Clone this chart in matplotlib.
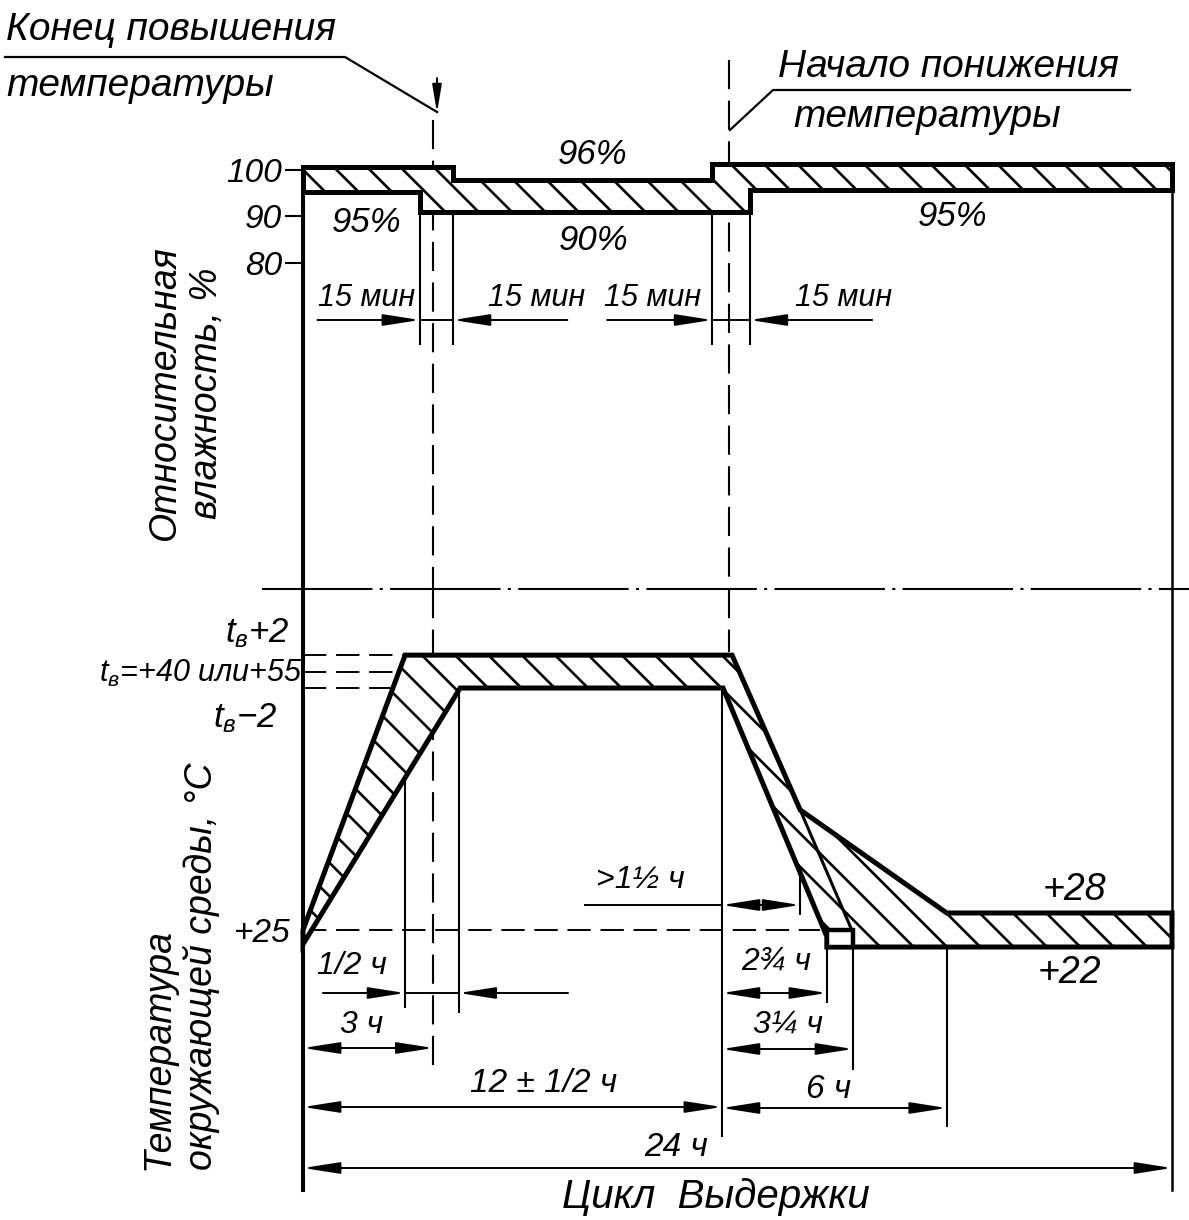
import matplotlib
matplotlib.use('Agg')
import matplotlib.pyplot as plt
from matplotlib.patches import Polygon, Rectangle, FancyArrowPatch

plt.rcParams['font.family'] = ['Liberation Sans', 'DejaVu Sans']
plt.rcParams['font.style'] = 'italic'
plt.rcParams['hatch.linewidth'] = 1.9
plt.rcParams['mathtext.fontset'] = 'custom'
plt.rcParams['mathtext.it'] = 'Liberation Sans:italic'
plt.rcParams['mathtext.rm'] = 'Liberation Sans:italic'

# ---------------- data (schematic drawing) ----------------
# time axis in hours as drawn (drawing is not to scale)
hum_upper_t = [0, 4.14, 4.14, 11.30, 11.30, 24]
hum_upper_v = [100.6, 100.6, 97.8, 97.8, 101.2, 101.2]
hum_lower_t = [0, 3.23, 3.23, 12.34, 12.34, 24]
hum_lower_v = [95.3, 95.3, 91.0, 91.0, 95.6, 95.6]
hum_ticks = [80, 90, 100]
hum_tick_labels = ['80', '90', '100']

temp_upper_t = [0, 2.82, 11.85, 13.73, 17.78, 24]
temp_upper_v = [25.0, 73.5, 73.5, 46.2, 28.0, 28.0]
temp_lower_t = [0, 4.34, 11.60, 14.47, 14.47, 24]
temp_lower_v = [22.5, 67.7, 67.7, 23.8, 22.0, 22.0]
alt_lower_t = [13.73, 15.19]
alt_lower_v = [46.2, 24.5]
box_t = [14.47, 15.19]
box_v = [22.0, 25.0]
tb_levels = [73.5, 70.5, 67.7]      # t_в+2, t_в, t_в-2 (schematic)
t25 = 25.0

t_rise_end = 3.6        # "3 ч"
t_fall_start = 11.76    # start of temperature decrease
t_12h = 11.57           # "12 ± 1/2 ч"
t_15min = [3.23, 4.14, 11.30, 12.34]
t_half = [2.82, 4.30]
t_gt15 = 13.73
t_234 = 14.47
t_314 = 15.19
t_6 = 17.78
t_24 = 24.0

# ---------------- layout ----------------
W, H = 1189, 1220
fig = plt.figure(figsize=(W / 100, H / 100), dpi=100)
PX_PER_H = (1172 - 303) / 24.0
X0 = -303 / PX_PER_H
X1 = X0 + W / PX_PER_H
SPLIT = 589

ax_h = fig.add_axes([0, 1 - SPLIT / H, 1, SPLIT / H])
ax_t = fig.add_axes([0, 0, 1, (H - SPLIT) / H])
HPX = 4.65
ax_h.set_xlim(X0, X1)
ax_h.set_ylim(100 - (SPLIT - 170) / HPX, 100 + 170 / HPX)
TPX = 5.667
ax_t.set_xlim(X0, X1)
ax_t.set_ylim(22 - (H - 947) / TPX, 22 + (947 - SPLIT) / TPX)

for ax in (ax_h, ax_t):
    ax.patch.set_alpha(0)
    ax.set_xticks([])
    for s in ('top', 'bottom'):
        ax.spines[s].set_visible(False)
    ax.spines['left'].set_position(('data', 0))
    ax.spines['right'].set_position(('data', t_24))
    ax.spines['left'].set_linewidth(2.9)
    ax.spines['right'].set_linewidth(1.8)

ax_h.spines['left'].set_bounds(ax_h.get_ylim()[0], hum_upper_v[0])
ax_h.spines['right'].set_bounds(ax_h.get_ylim()[0], hum_upper_v[-1])
ax_t.spines['left'].set_bounds(22 - (1190 - 947) / TPX, ax_t.get_ylim()[1])
ax_t.spines['right'].set_bounds(22 - (1190 - 947) / TPX, ax_t.get_ylim()[1])
ax_t.set_yticks([])

ax_h.set_yticks(hum_ticks)
ax_h.set_yticklabels(hum_tick_labels)
ax_h.tick_params(axis='y', direction='out', length=13, width=1.5, pad=2,
                 labelsize=24, right=False)

FS = dict(color='black', style='italic')


def ft(x, y, s, size=22, ha='center', va='center', **kw):
    fig.text(x / W, 1 - y / H, s, fontsize=size, ha=ha, va=va, **FS, **kw)


def pline(xs, ys, lw=1.5, ls='-', **kw):
    fig.lines.append(plt.Line2D([x / W for x in xs], [1 - y / H for y in ys],
                                transform=fig.transFigure, lw=lw, ls=ls,
                                color='black', **kw))


def yh(p):
    return (SPLIT - p) / SPLIT


def yt(p):
    return (H - p) / (H - SPLIT)


AP = dict(color='black', lw=1.4, shrinkA=0, shrinkB=0, mutation_scale=14)


def dim(ax, x1, x2, y, style):
    tr = ax.get_xaxis_transform()
    ax.annotate('', xy=(x2, y), xytext=(x1, y), xycoords=tr, textcoords=tr,
                arrowprops=dict(arrowstyle=style + ',head_length=1.6,head_width=0.25', **AP))


def vline(ax, x, p1, p2, lw=1.5, ls='-', yf=None):
    ax.plot([x, x], [yf(p1), yf(p2)], transform=ax.get_xaxis_transform(),
            color='black', lw=lw, ls=ls, clip_on=False, solid_capstyle='butt')


def hline(ax, x1, x2, p, yf, lw=1.4, ls='-'):
    ax.plot([x1, x2], [yf(p), yf(p)], transform=ax.get_xaxis_transform(),
            color='black', lw=lw, ls=ls, clip_on=False)


# ---------------- humidity band ----------------
poly_h = list(zip(hum_upper_t, hum_upper_v)) + list(zip(hum_lower_t[::-1], hum_lower_v[::-1]))
ax_h.add_patch(Polygon(poly_h, closed=True, facecolor='white', edgecolor='black',
                       hatch='\\', lw=3.6, joinstyle='miter', zorder=3))

# extension lines for 15 min marks
for x in t_15min:
    vline(ax_h, x, 190, 345, lw=1.5, yf=yh)
DASH = (0, (14, 5.5))
vline(ax_h, t_rise_end, 120, SPLIT, lw=1.5, ls=DASH, yf=yh)
vline(ax_h, t_fall_start, 60, SPLIT, lw=1.5, ls=DASH, yf=yh)

# 15 min dimension arrows
ROW15 = 320
dim(ax_h, 0.4, t_15min[0], yh(ROW15), '-|>')
dim(ax_h, 7.3, t_15min[1], yh(ROW15), '-|>')
dim(ax_h, 8.4, t_15min[2], yh(ROW15), '-|>')
dim(ax_h, 15.72, t_15min[3], yh(ROW15), '-|>')
hline(ax_h, t_15min[0], t_15min[1], ROW15, yh)
hline(ax_h, t_15min[2], t_15min[3], ROW15, yh)
for cx in (367, 537, 653, 844):
    ft(cx, 298, '15 мин', size=22)

ft(593, 155, '96%', size=25)
ft(367, 222, '95%', size=25)
ft(594, 240, '90%', size=25)
ft(953, 216, '95%', size=25)

# top annotations
ft(6, 30, 'Конец повышения', size=28, ha='left')
ft(6, 86, 'температуры', size=28, ha='left')
pline([5, 345, 437], [57, 57, 112], lw=1.6)
fig.add_artist(FancyArrowPatch(
    (437 / W, 1 - 78 / H), (437 / W, 1 - 113 / H), transform=fig.transFigure,
    arrowstyle='-|>,head_length=1.2,head_width=0.2', mutation_scale=14,
    color='black', lw=1.4, shrinkA=0, shrinkB=0))
ft(778, 67, 'Начало понижения', size=28, ha='left')
ft(793, 117, 'температуры', size=28, ha='left')
pline([1130, 773, 730], [90, 90, 130], lw=1.6)

ft(186, 393, 'Относительная\nвлажность, %', size=27, rotation=90,
   multialignment='center')

# divider
pline([262, W], [SPLIT, SPLIT], lw=1.5, ls=(0, (53, 3.5, 1.5, 3.5)))

# ---------------- temperature band ----------------
poly_t = list(zip(temp_upper_t, temp_upper_v)) + list(zip(temp_lower_t[::-1], temp_lower_v[::-1]))
ax_t.add_patch(Polygon(poly_t, closed=True, facecolor='white', edgecolor='black',
                       hatch='\\', lw=3.6, joinstyle='miter', zorder=3))
ax_t.plot(alt_lower_t, alt_lower_v, color='black', lw=2.2, zorder=4)
ax_t.add_patch(Rectangle((box_t[0], box_v[0]), box_t[1] - box_t[0], box_v[1] - box_v[0],
                         facecolor='white', edgecolor='black', lw=3.2, zorder=5))

# reference levels (dashed)
TDASH = (0, (12, 5))
ax_t.plot([0, temp_upper_t[1]], [tb_levels[0]] * 2, color='black', lw=1.4, ls=TDASH, zorder=2)
ax_t.plot([0, temp_upper_t[1] + 0.3], [tb_levels[1]] * 2, color='black', lw=1.4, ls=TDASH, zorder=2)
ax_t.plot([0, temp_lower_t[1]], [tb_levels[2]] * 2, color='black', lw=1.4, ls=TDASH, zorder=2)
ax_t.plot([0, t_234 - 0.2], [t25] * 2, color='black', lw=1.4, ls=TDASH, zorder=2)

# extension lines
vline(ax_t, t_half[0], 655, 1008, yf=yt)
vline(ax_t, t_half[1], 688, 1013, yf=yt)
vline(ax_t, t_rise_end, SPLIT, 1073, ls=DASH, yf=yt)
vline(ax_t, t_fall_start, SPLIT, 652, ls=DASH, yf=yt)
vline(ax_t, t_12h, 688, 1137, yf=yt)
vline(ax_t, t_gt15, 810, 915, yf=yt)
vline(ax_t, t_234, 947, 1003, yf=yt)
vline(ax_t, t_314, 947, 1070, yf=yt)
vline(ax_t, t_6, 913, 1127, yf=yt)

# dimensions
DS = 23
hline(ax_t, 7.8, t_12h, 905, yt)
dim(ax_t, t_12h, t_gt15, yt(905), '<|-|>')
ft(640, 880, '>1½ ч', size=DS)

dim(ax_t, 0.55, t_half[0], yt(993), '-|>')
hline(ax_t, t_half[0], t_half[1], 993, yt)
dim(ax_t, 7.32, t_half[1], yt(993), '-|>')
ft(352, 966, '1/2 ч', size=DS)

dim(ax_t, 0, t_rise_end, yt(1048), '<|-|>')
ft(362, 1025, '3 ч', size=DS)

dim(ax_t, 0, t_12h, yt(1107), '<|-|>')
ft(544, 1083, '12 ± 1/2 ч', size=DS + 1)

dim(ax_t, t_12h, t_234, yt(993), '<|-|>')
ft(776, 962, '2¾ ч', size=DS)
dim(ax_t, t_12h, t_314, yt(1049), '<|-|>')
ft(788, 1025, '3¼ ч', size=DS)
dim(ax_t, t_12h, t_6, yt(1108), '<|-|>')
ft(829, 1089, '6 ч', size=DS + 1)

dim(ax_t, 0, t_24, yt(1168), '<|-|>')
ft(676, 1148, '24 ч', size=DS + 1)
ft(716, 1197, 'Цикл  Выдержки', size=29)

ft(1074, 890, '+28', size=27)
ft(1069, 973, '+22', size=27)
ft(291, 934, '+25', size=24, ha='right')

ft(257, 633, r'$t_в$+2', size=25)
ft(302, 673, r'$t_в$=+40 или+55', size=22, ha='right')
ft(245, 718, r'$t_в$−2', size=25)

ft(180, 1170, 'Температура\nокружающей среды, °С', size=27, rotation=90,
   ha='center', va='bottom', multialignment='left')

fig.savefig('out.png', dpi=100)
